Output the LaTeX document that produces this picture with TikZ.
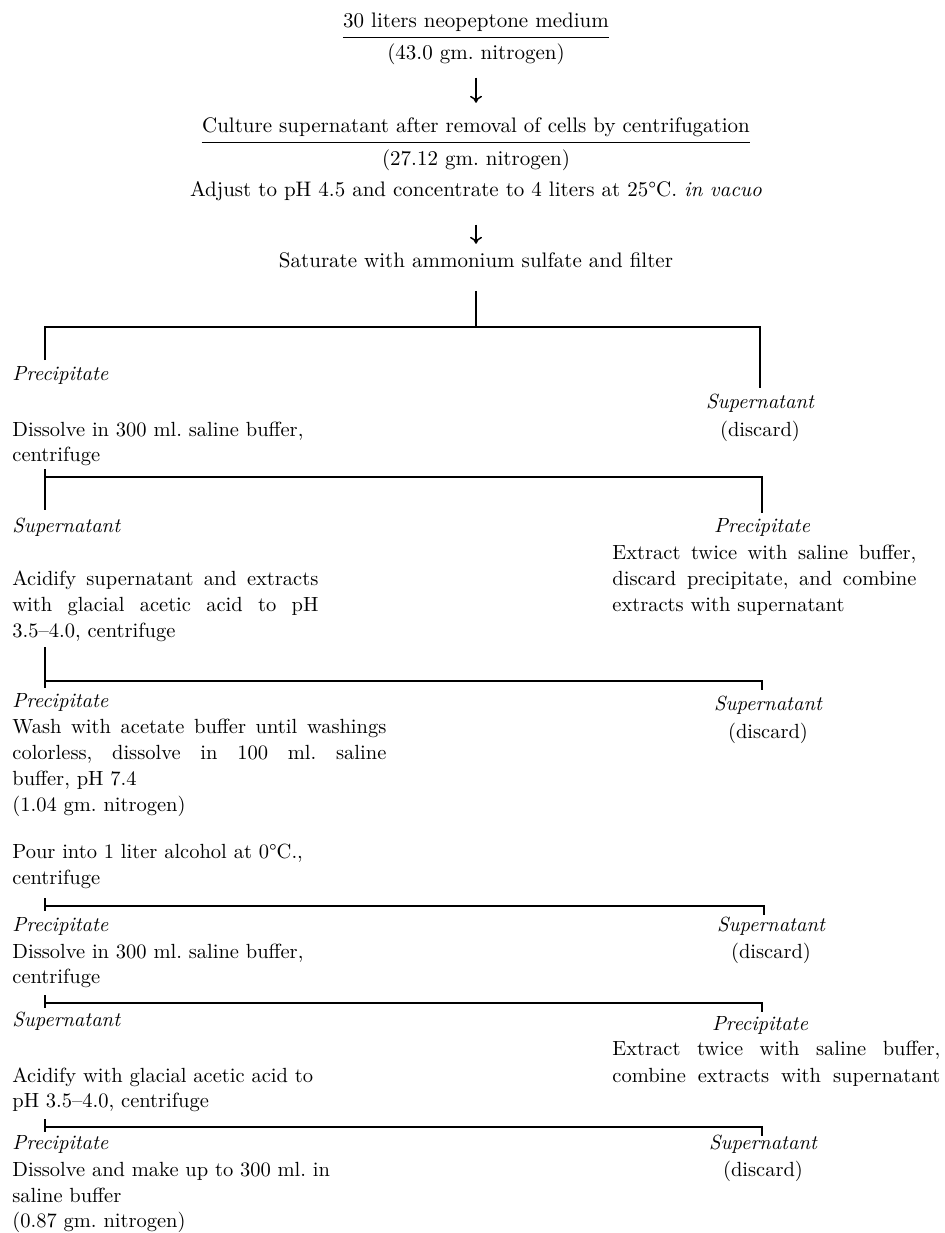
\documentclass[tikz,border=0pt]{standalone}
\usetikzlibrary{arrows.meta}
\newcommand\fsz{\fontsize{10.25}{13}\selectfont\frenchspacing}
\newcommand\fsztop{\fontsize{10.5}{13}\selectfont\frenchspacing}
\tikzset{
  txt/.style={inner sep=0pt, font=\fsz},
  lt/.style={txt, anchor=base west},
  ct/.style={txt, anchor=base},
  topt/.style={inner sep=0pt, anchor=base, font=\fsztop},
  itl/.style={font=\fsz\itshape},
  ln/.style={line width=0.65pt, line cap=butt},
  arr/.style={line width=0.75pt, -{Computer Modern Rightarrow[length=3.5pt,width=6pt]}},
}
\begin{document}
\begin{tikzpicture}[x=0.5pt,y=-0.5pt]
\useasboundingbox (0,0) rectangle (945,1233);
% ---- top column ----
\node[topt] (t1) at (476,27) {30 liters neopeptone medium};
\draw[ln] ([yshift=-3pt]t1.south west) -- ([yshift=-3pt]t1.south east);
\node[topt] (n1) at (476,59) {(43.0 gm. nitrogen)};
\node[topt] (t2) at (476,132) {Culture supernatant after removal of cells by centrifugation};
\draw[ln] ([yshift=-3pt]t2.south west) -- ([yshift=-3pt]t2.south east);
\draw[arr, shorten <=6.5pt, shorten >=7pt] (n1.south) -- (t2.north);
\node[topt] (n2) at (476,165) {(27.12 gm. nitrogen)};
\node[topt] (adj) at (476,196) {Adjust to pH 4.5 and concentrate to 4 liters at 25\textdegree C. \textit{in vacuo}};
\node[topt] (sat) at (476,267) {Saturate with ammonium sulfate and filter};
\draw[arr, shorten <=12pt, shorten >=4pt] (adj.south) -- (sat.north);
% ---- bracket 1 ----
\coordinate (b1c) at (476,327);
\coordinate (b1le) at (45,360);
\coordinate (b1re) at (760,388);
\draw[ln, shorten <=11.5pt] (sat.south) -- (b1c);
\draw[ln] (b1le) |- (b1c) -| (b1re);
\node[lt, itl] (pr1) at (12,380) {Precipitate};
\node[ct, itl] (su1) at (760,408) {Supernatant};
\node[ct] (di1) at (760,436) {(discard)};
\node[lt] (d1a) at (12,436) {Dissolve in 300 ml. saline buffer,};
\node[lt] (d1b) at (12,461) {centrifuge};
% ---- bracket 2 ----
\coordinate (b2a) at (45,469);
\coordinate (b2b) at (45,510);
\coordinate (b2l) at (45,477);
\coordinate (b2r) at (762,513);
\draw[ln] (b2a) -- (b2b);
\draw[ln] (b2l) -| (b2r);
\node[lt, itl] (su2) at (12,532) {Supernatant};
\node[ct, itl] (pr2) at (762,532) {Precipitate};
\node[lt] (ex1a) at (612,559) {\makebox[152pt][s]{Extract twice with saline buffer,}};
\node[lt] (ex1b) at (612,585) {\makebox[152pt][s]{discard precipitate, and combine}};
\node[lt] (ex1c) at (612,611) {extracts with supernatant};
\node[lt] (ac1a) at (12,585) {\makebox[153pt][s]{Acidify supernatant and extracts}};
\node[lt] (ac1b) at (12,611) {\makebox[153pt][s]{with glacial acetic acid to pH}};
\node[lt] (ac1c) at (12,637) {3.5--4.0, centrifuge};
% ---- bracket 3 ----
\coordinate (b3a) at (45,647);
\coordinate (b3b) at (45,688);
\coordinate (b3l) at (45,681);
\coordinate (b3r) at (762,690);
\draw[ln] (b3a) -- (b3b);
\draw[ln] (b3l) -| (b3r);
\node[lt, itl] (pr3) at (12,707) {Precipitate};
\node[ct, itl] (su3) at (768,710) {Supernatant};
\node[ct] (di3) at (768,738) {(discard)};
\node[lt] (wa1) at (12,733) {\makebox[187pt][s]{Wash with acetate buffer until washings}};
\node[lt] (wa2) at (12,759) {\makebox[187pt][s]{colorless, dissolve in 100 ml. saline}};
\node[lt] (wa3) at (12,785) {buffer, pH 7.4};
\node[lt] (wa4) at (12,811) {(1.04 gm. nitrogen)};
\node[lt] (po1) at (12,858) {Pour into 1 liter alcohol at 0\textdegree C.,};
\node[lt] (po2) at (12,884) {centrifuge};
% ---- bracket 4 ----
\coordinate (b4a) at (45,898);
\coordinate (b4b) at (45,911);
\coordinate (b4l) at (45,906);
\coordinate (b4r) at (764,915);
\draw[ln] (b4a) -- (b4b);
\draw[ln] (b4l) -| (b4r);
\node[lt, itl] (pr4) at (12,931) {Precipitate};
\node[ct, itl] (su4) at (771,931) {Supernatant};
\node[ct] (di4) at (771,958) {(discard)};
\node[lt] (d4a) at (12,958) {Dissolve in 300 ml. saline buffer,};
\node[lt] (d4b) at (12,983) {centrifuge};
% ---- bracket 5 ----
\coordinate (b5a) at (45,995);
\coordinate (b5b) at (45,1008);
\coordinate (b5l) at (45,1003);
\coordinate (b5r) at (762,1012);
\draw[ln] (b5a) -- (b5b);
\draw[ln] (b5l) -| (b5r);
\node[lt, itl] (su5) at (12,1026) {Supernatant};
\node[ct, itl] (pr5) at (760,1030) {Precipitate};
\node[lt] (ex2a) at (612,1055) {\makebox[164pt][s]{Extract twice with saline buffer,}};
\node[lt] (ex2b) at (612,1082) {\makebox[164pt][s]{combine extracts with supernatant}};
\node[lt] (ac2a) at (12,1082) {Acidify with glacial acetic acid to};
\node[lt] (ac2b) at (12,1107) {pH 3.5--4.0, centrifuge};
% ---- bracket 6 ----
\coordinate (b6a) at (45,1119);
\coordinate (b6b) at (45,1132);
\coordinate (b6l) at (45,1127);
\coordinate (b6r) at (762,1136);
\draw[ln] (b6a) -- (b6b);
\draw[ln] (b6l) -| (b6r);
\node[lt, itl] (pr6) at (12,1149) {Precipitate};
\node[ct, itl] (su6) at (763,1149) {Supernatant};
\node[ct] (di6) at (763,1176) {(discard)};
\node[lt] (fi1) at (12,1176) {Dissolve and make up to 300 ml. in};
\node[lt] (fi2) at (12,1202) {saline buffer};
\node[lt] (fi3) at (12,1227) {(0.87 gm. nitrogen)};
\end{tikzpicture}
\end{document}
